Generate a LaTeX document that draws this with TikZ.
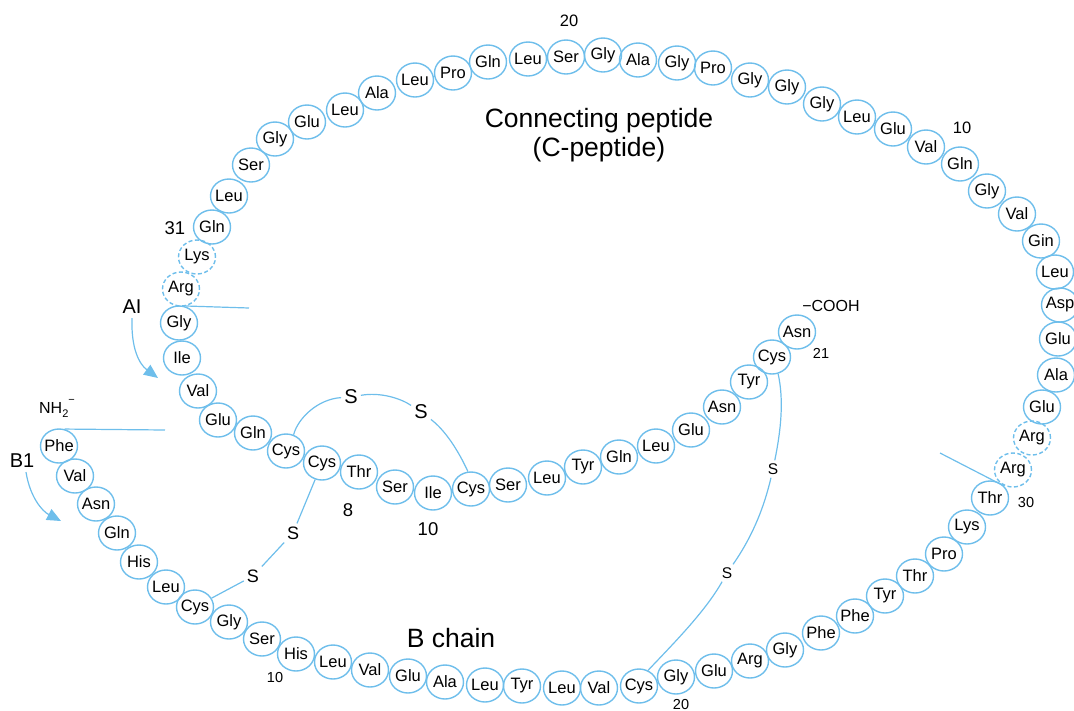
\documentclass[tikz,border=0pt]{standalone}
\usepackage{fontspec}
\setmainfont{Liberation Sans}
\usetikzlibrary{shapes.geometric,arrows.meta,calc}
\definecolor{pblue}{RGB}{110,190,235}
% one amino-acid residue, solid or dashed outline
\newcommand{\res}[4]{\node[res] (#1) at (#2,#3) {\makebox[0pt]{#4}};}
\newcommand{\resd}[4]{\node[res,dashres] (#1) at (#2,#3) {\makebox[0pt]{#4}};}
\newcommand{\fs}[1]{\fontsize{#1}{#1}\selectfont}
\begin{document}
\begin{tikzpicture}[x=1pt,y=-1pt,
  res/.style={ellipse,draw=pblue,line width=1.4pt,minimum width=37pt,
    minimum height=34pt,inner sep=0pt,font=\fs{16.5}},
  dashres/.style={dash pattern=on 4pt off 2.5pt},
  bond/.style={draw=pblue,line width=1.2pt},
  sulf/.style={inner sep=3pt},
  lbl/.style={inner sep=0pt},
  arr/.style={draw=pblue,line width=1.2pt,-{Triangle[length=14pt,width=12pt]}}]
\useasboundingbox (0,0) rectangle (1074,710);

% B chain
\res{b1}{59}{446}{Phe}
\res{b2}{75}{476}{Val}
\res{b3}{96}{504}{Asn}
\res{b4}{117}{533}{Gln}
\res{b5}{139}{562}{His}
\res{b6}{166}{587}{Leu}
\res{b7}{195}{607}{Cys}
\res{b8}{229}{622}{Gly}
\res{b9}{262}{639}{Ser}
\res{b10}{296}{654}{His}
\res{b11}{333}{662}{Leu}
\res{b12}{370}{670}{Val}
\res{b13}{408}{676}{Glu}
\res{b14}{445}{682}{Ala}
\res{b15}{485}{685}{Leu}
\res{b16}{522}{686}{Tyr}
\res{b17}{562}{688}{Leu}
\res{b18}{599}{688}{Val}
\res{b19}{639}{686}{Cys}
\res{b20}{676}{677}{Gly}
\res{b21}{714}{671}{Glu}
\res{b22}{750}{661}{Arg}
\res{b23}{785}{650}{Gly}
\res{b24}{821}{633}{Phe}
\res{b25}{855}{616}{Phe}
\res{b26}{885}{596}{Tyr}
\res{b27}{915}{576}{Thr}
\res{b28}{944}{554}{Pro}
\res{b29}{967}{527}{Lys}
\res{b30}{990}{498}{Thr}
% cleaved basic pair B/C
\resd{k1}{1013}{470}{Arg}
\resd{k2}{1032}{438}{Arg}
% connecting peptide
\res{c1}{1042}{407}{Glu}
\res{c2}{1056}{375}{Ala}
\res{c3}{1058}{339}{Glu}
\res{c4}{1060}{305}{Asp}
\res{c5}{1055}{272}{Leu}
\res{c6}{1041}{241}{Gin}
\res{c7}{1017}{214}{Val}
\res{c8}{987}{191}{Gly}
\res{c9}{960}{164}{Gln}
\res{c10}{926}{147}{Val}
\res{c11}{893}{129}{Glu}
\res{c12}{857}{117}{Leu}
\res{c13}{822}{104}{Gly}
\res{c14}{787}{87}{Gly}
\res{c15}{750}{80}{Gly}
\res{c16}{713}{68}{Pro}
\res{c17}{677}{63}{Gly}
\res{c18}{638}{60}{Ala}
\res{c19}{603}{55}{Gly}
\res{c20}{566}{57}{Ser}
\res{c21}{528}{59}{Leu}
\res{c22}{488}{62}{Gln}
\res{c23}{453}{73}{Pro}
\res{c24}{415}{80}{Leu}
\res{c25}{377}{93}{Ala}
\res{c26}{345}{110}{Leu}
\res{c27}{307}{122}{Glu}
\res{c28}{275}{139}{Gly}
\res{c29}{251}{165}{Ser}
\res{c30}{229}{196}{Leu}
\res{c31}{212}{227}{Gln}
% cleaved basic pair C/A
\resd{k3}{197}{257}{Lys}
\resd{k4}{181}{289}{Arg}
% A chain
\res{a1}{179}{323}{Gly}
\res{a2}{182}{358}{Ile}
\res{a3}{198}{391}{Val}
\res{a4}{218}{420}{Glu}
\res{a5}{253}{433}{Gln}
\res{a6}{286}{451}{Cys}
\res{a7}{322}{463}{Cys}
\res{a8}{359}{472}{Thr}
\res{a9}{395}{487}{Ser}
\res{a10}{433}{493}{Ile}
\res{a11}{471}{489}{Cys}
\res{a12}{508}{485}{Ser}
\res{a13}{547}{478}{Leu}
\res{a14}{583}{467}{Tyr}
\res{a15}{619}{457}{Gln}
\res{a16}{656}{446}{Leu}
\res{a17}{691}{430}{Glu}
\res{a18}{722}{407}{Asn}
\res{a19}{749}{382}{Tyr}
\res{a20}{772}{357}{Cys}
\res{a21}{797}{332}{Asn}

% numbering and titles
\node[lbl,font=\fs{16.5}] (n20c) at (569,21) {20};
\node[lbl,font=\fs{16.5}] (n10c) at (962,128) {10};
\node[lbl,font=\fs{26.5},align=center] (title) at (599,135) {Connecting peptide\\[2pt](C-peptide)};
\node[lbl,font=\fs{18.5}] (n31) at (175,228) {31};
\node[lbl,font=\fs{20}] (ai) at (132,307) {AI};
\node[lbl,font=\fs{16}] (nh2) at (57,408) {NH\raisebox{-0.45ex}{\fs{11}2}\raisebox{1.2ex}{\fs{11}−}};
\node[lbl,font=\fs{20}] (b1lbl) at (22,461) {B1};
\node[lbl,font=\fs{16}] (cooh) at (831,306) {−COOH};
\node[lbl,font=\fs{14.5}] (n21) at (821,353) {21};
\node[lbl,font=\fs{18.5}] (n8) at (348,510) {8};
\node[lbl,font=\fs{18.5}] (n10a) at (428,529) {10};
\node[lbl,font=\fs{26.5}] (bchain) at (451,638) {B chain};
\node[lbl,font=\fs{14.5}] (n10b) at (275,677) {10};
\node[lbl,font=\fs{14.5}] (n20b) at (681,704) {20};
\node[lbl,font=\fs{14.5}] (n30) at (1026,503) {30};

% sulfur atoms
\node[sulf,font=\fs{20}] (s1) at (351,397) {S};
\node[sulf,font=\fs{20}] (s2) at (421,412) {S};
\node[sulf,font=\fs{18}] (s3) at (293,533) {S};
\node[sulf,font=\fs{18}] (s4) at (253,576) {S};
\node[sulf,font=\fs{15.5}] (s5) at (773,469) {S};
\node[sulf,font=\fs{15.5}] (s6) at (727,573) {S};

% disulfide bridges
\draw[bond] (a6.65) .. controls (298,418) and (318,399) .. (s1);
\draw[bond] (s1) .. controls (380,392) and (400,398) .. (s2);
\draw[bond] (s2) .. controls (445,430) and (458,450) .. (a11.100);
\draw[bond] (a7) -- (s3);
\draw[bond] (s3) -- (s4);
\draw[bond] (s4) -- (b7);
\draw[bond] (a20.-70) .. controls (784,400) and (781,430) .. (s5);
\draw[bond] (s5) .. controls (763,512) and (750,540) .. (s6);
\draw[bond] (s6) .. controls (705,612) and (672,645) .. (b19.60);

% cleavage marks
\coordinate (cutA) at (249,308);
\draw[bond] ($(k4)!0.5!(a1)+(6,0)$) -- (cutA);
\coordinate (cutB) at (165,430);
\draw[bond] (b1.72) -- (cutB);
\coordinate (cutC) at (940,453);
\draw[bond] (cutC) -- (b30.40);

% chain start arrows
\coordinate (aitip) at (158,378);
\draw[arr] (ai.south) ++(0,4) .. controls (131,348) and (139,364) .. (aitip);
\coordinate (b1tip) at (61,521);
\draw[arr] (b1lbl.south) ++(4,4) .. controls (30,497) and (42,511) .. (b1tip);
\end{tikzpicture}
\end{document}
